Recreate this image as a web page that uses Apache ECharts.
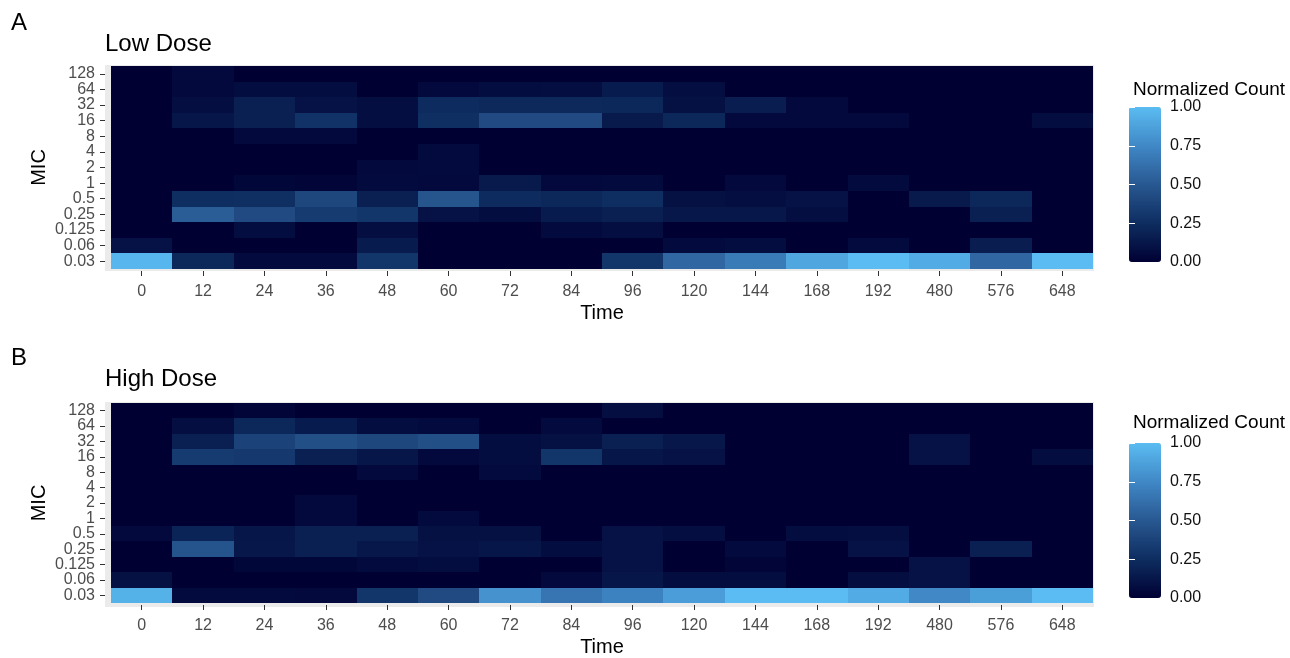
<!DOCTYPE html>
<html>
<head>
<meta charset="utf-8">
<script src="https://cdn.jsdelivr.net/npm/echarts@6/dist/echarts.min.js"></script>
<style>html,body{margin:0;padding:0;background:#fff}#chart{width:1290px;height:658px}</style>
</head>
<body>
<div id="chart"></div>
<script>
// ---- Data ----
const times = ['0','12','24','36','48','60','72','84','96','120','144','168','192','480','576','648'];
const mics = ['0.03','0.06','0.125','0.25','0.5','1','2','4','8','16','32','64','128'];
const legendBreaks = [0, 0.25, 0.5, 0.75, 1];

// Low dose: one array per MIC row, values by time
const low_0_03  = [0.97,0.22,0.06,0.06,0.30,0,0,0,0.30,0.58,0.68,0.90,1.00,0.92,0.58,1.00];
const low_0_06  = [0.10,0,0,0,0.15,0,0,0,0,0.06,0.07,0,0.06,0,0.16,0];
const low_0_125 = [0,0,0.07,0,0.08,0,0,0.06,0.08,0,0,0,0,0,0,0];
const low_0_25  = [0,0.52,0.42,0.33,0.30,0.10,0.07,0.15,0.17,0.13,0.13,0.08,0,0,0.18,0];
const low_0_5   = [0,0.25,0.26,0.40,0.18,0.48,0.24,0.22,0.25,0.09,0.08,0.10,0,0.14,0.22,0];
const low_1     = [0,0,0.04,0.03,0.06,0.05,0.14,0.05,0.06,0,0.05,0,0.06,0,0,0];
const low_2     = [0,0,0,0,0.05,0.06,0,0,0,0,0,0,0,0,0,0];
const low_4     = [0,0,0,0,0,0.06,0,0,0,0,0,0,0,0,0,0];
const low_8     = [0,0,0.05,0.05,0,0,0,0,0,0,0,0,0,0,0,0];
const low_16    = [0,0.12,0.17,0.28,0.08,0.26,0.42,0.42,0.14,0.22,0.05,0.05,0.05,0,0,0.07];
const low_32    = [0,0.08,0.18,0.10,0.08,0.24,0.23,0.23,0.22,0.09,0.16,0.05,0,0,0,0];
const low_64    = [0,0.05,0.07,0.07,0,0.05,0.07,0.08,0.15,0.08,0,0,0,0,0,0];
const low_128   = [0,0.05,0,0,0,0,0,0,0,0,0,0,0,0,0,0];

// High dose: one array per MIC row, values by time
const high_0_03  = [0.95,0.06,0.06,0.05,0.30,0.42,0.80,0.65,0.72,0.85,1.00,1.00,0.92,0.75,0.86,1.00];
const high_0_06  = [0.09,0,0,0,0,0,0,0.05,0.12,0.07,0.07,0,0.08,0.10,0,0];
const high_0_125 = [0,0,0.04,0.04,0.06,0.07,0,0,0.10,0,0.03,0,0,0.10,0,0];
const high_0_25  = [0,0.47,0.13,0.17,0.13,0.10,0.12,0.07,0.10,0,0.06,0,0.10,0,0.18,0];
const high_0_5   = [0.05,0.20,0.12,0.18,0.18,0.09,0.09,0,0.10,0.08,0,0.07,0.08,0,0,0];
const high_1     = [0,0,0,0.05,0,0.06,0,0,0,0,0,0,0,0,0,0];
const high_2     = [0,0,0,0.05,0,0,0,0,0,0,0,0,0,0,0,0];
const high_4     = [0,0,0,0,0,0,0,0,0,0,0,0,0,0,0,0];
const high_8     = [0,0,0,0,0.05,0,0.06,0,0,0,0,0,0,0,0,0];
const high_16    = [0,0.33,0.32,0.18,0.12,0.05,0.07,0.30,0.12,0.10,0,0,0,0.10,0,0.07];
const high_32    = [0,0.17,0.38,0.45,0.40,0.45,0.07,0.09,0.17,0.13,0,0,0,0.10,0,0];
const high_64    = [0,0.08,0.22,0.15,0.07,0.06,0,0.06,0,0,0,0,0,0,0,0];
const high_128   = [0,0,0.03,0,0,0,0,0,0.08,0,0,0,0,0,0,0];

const lowRows  = [low_0_03,low_0_06,low_0_125,low_0_25,low_0_5,low_1,low_2,low_4,low_8,low_16,low_32,low_64,low_128];
const highRows = [high_0_03,high_0_06,high_0_125,high_0_25,high_0_5,high_1,high_2,high_4,high_8,high_16,high_32,high_64,high_128];

// ---- Styling ----
const FONT = '"Liberation Sans", Arial, Helvetica, sans-serif';
const fillColors = ['#000033','#0E2D60','#285891','#4088C6','#5ABCF2'];

function toCells(rows) {
  const out = [];
  rows.forEach((row, yi) => row.forEach((v, xi) => out.push([xi, yi, v])));
  return out;
}

// Tile renderer: cells placed through the axes' own scales, edges snapped to whole pixels
function renderTile(params, api) {
  const c = api.coord([api.value(0), api.value(1)]);
  const s = api.size([1, 1]);
  const x1 = Math.round(c[0] - s[0] / 2), x2 = Math.round(c[0] + s[0] / 2);
  const y1 = Math.round(c[1] - s[1] / 2), y2 = Math.round(c[1] + s[1] / 2);
  return {type: 'rect', shape: {x: x1, y: y1, width: x2 - x1, height: y2 - y1},
          style: {fill: api.visual('color')}};
}

const panels = [
  {tag:'A', title:'Low Dose',  rows: lowRows,  tileTop: 66,  tileH: 203, barTop: 107, tagTop: 11,  titleTop: 32,  legTop: 80},
  {tag:'B', title:'High Dose', rows: highRows, tileTop: 403, tileH: 202, barTop: 443, tagTop: 346, titleTop: 367, legTop: 413}
];

const tileLeft = 111, tileW = 982;
const grid = [], xAxis = [], yAxis = [], series = [], visualMap = [], title = [];

panels.forEach((p, i) => {
  const g0 = grid.length;
  grid.push({left: tileLeft - 6, top: p.tileTop - 1, width: tileW + 7, height: p.tileH + 3,
             show: true, backgroundColor: '#EBEBEB', borderWidth: 0, containLabel: false});
  grid.push({left: tileLeft, top: p.tileTop, width: tileW, height: p.tileH, containLabel: false});
  grid.push({left: 1129, top: p.barTop, width: 32, height: 155, containLabel: false});

  const x0 = xAxis.length, y0 = yAxis.length;
  xAxis.push({gridIndex: g0, type: 'value', show: false, min: 0, max: 1});
  yAxis.push({gridIndex: g0, type: 'value', show: false, min: 0, max: 1});

  xAxis.push({
    gridIndex: g0 + 1, type: 'category', data: times, offset: 2,
    axisLine: {show: false},
    axisTick: {show: true, alignWithLabel: true, length: 5, lineStyle: {color: '#333333', width: 1}},
    axisLabel: {color: '#4D4D4D', fontSize: 16, fontFamily: FONT, margin: 13, interval: 0},
    splitLine: {show: false}, splitArea: {show: false},
    name: 'Time', nameLocation: 'middle', nameGap: 32, nameMoveOverlap: false,
    nameTextStyle: {color: '#000', fontSize: 20, fontFamily: FONT}
  });
  yAxis.push({
    gridIndex: g0 + 1, type: 'category', data: mics, offset: 6,
    axisLine: {show: false},
    axisTick: {show: true, alignWithLabel: true, interval: 0, length: 5, lineStyle: {color: '#333333', width: 1}},
    axisLabel: {color: '#4D4D4D', fontSize: 16, fontFamily: FONT, margin: 10, lineHeight: 16, interval: 0, hideOverlap: false},
    splitLine: {show: false}, splitArea: {show: false},
    name: 'MIC', nameLocation: 'middle', nameGap: 56, nameRotate: 90, nameMoveOverlap: false,
    nameTextStyle: {color: '#000', fontSize: 20, fontFamily: FONT}
  });

  xAxis.push({gridIndex: g0 + 2, type: 'value', show: false, min: 0, max: 1});
  yAxis.push({
    gridIndex: g0 + 2, type: 'value', min: 0, max: 1, interval: 0.25, position: 'right', z: 10,
    axisLine: {show: false},
    axisTick: {show: true, inside: true, length: 6, lineStyle: {color: '#FFFFFF', width: 1}},
    axisLabel: {color: '#111', fontSize: 16, fontFamily: FONT, margin: 9,
                formatter: v => legendBreaks.indexOf(v) >= 0 ? v.toFixed(2) : ''},
    splitLine: {show: false}
  });
  yAxis.push({
    gridIndex: g0 + 2, type: 'value', min: 0, max: 1, interval: 0.25, position: 'left', z: 10,
    axisLine: {show: false},
    axisTick: {show: true, inside: true, length: 6, lineStyle: {color: '#FFFFFF', width: 1}},
    axisLabel: {show: false}, splitLine: {show: false}
  });

  const tileIndex = series.length;
  series.push({
    type: 'custom', xAxisIndex: x0 + 1, yAxisIndex: y0 + 1,
    data: toCells(p.rows), encode: {x: 0, y: 1},
    renderItem: renderTile, silent: true
  });
  series.push({type: 'scatter', xAxisIndex: x0 + 2, yAxisIndex: y0 + 2, data: [], silent: true});

  visualMap.push({
    type: 'continuous', seriesIndex: tileIndex, dimension: 2, min: 0, max: 1,
    inRange: {color: fillColors}, calculable: false, orient: 'vertical',
    itemWidth: 32, itemHeight: 155, left: 1129, top: p.barTop, padding: 0,
    text: null, hoverLink: false
  });

  title.push({text: p.tag, left: 11, top: p.tagTop, padding: 0,
              textStyle: {fontSize: 24, fontWeight: 'normal', color: '#000', fontFamily: FONT}});
  title.push({text: p.title, left: 105, top: p.titleTop, padding: 0,
              textStyle: {fontSize: 24, fontWeight: 'normal', color: '#000', fontFamily: FONT}});
  title.push({text: 'Normalized Count', left: 1133, top: p.legTop, padding: 0,
              textStyle: {fontSize: 19, fontWeight: 'normal', color: '#000', fontFamily: FONT}});
});

const chart = echarts.init(document.getElementById('chart'), null, {renderer: 'canvas'});
chart.setOption({
  animation: false,
  backgroundColor: '#FFFFFF',
  textStyle: {fontFamily: FONT},
  title, grid, xAxis, yAxis, visualMap, series,
  tooltip: {show: false}
});
</script>
</body>
</html>
